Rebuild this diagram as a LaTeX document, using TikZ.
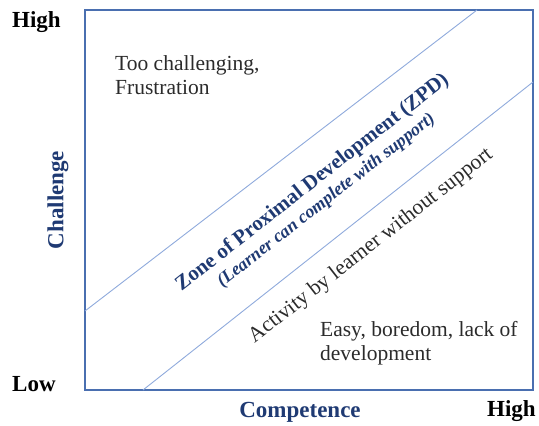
\documentclass[tikz,border=0pt]{standalone}
\usepackage{fontspec}
\setmainfont{Liberation Serif}
\definecolor{navy}{HTML}{1F3A73}
\definecolor{boxblue}{HTML}{4A6FB0}
\definecolor{linblue}{HTML}{8FAADC}
\definecolor{txt}{HTML}{2B2B2B}
\begin{document}
\begin{tikzpicture}[x=1pt,y=-1pt,
  body/.style={font=\fontsize{21.5}{24}\selectfont, text=txt, inner sep=0pt},
  axlab/.style={font=\fontsize{23}{26}\selectfont\bfseries, inner sep=0pt},
  navylab/.style={axlab, text=navy}]
\useasboundingbox (0,0) rectangle (539,426);
% frame
\coordinate (tl) at (85,10);
\coordinate (br) at (533,390);
\draw[boxblue, line width=1.3pt] (tl) rectangle (br);
% diagonal lines
\coordinate (u1) at (85,311);
\coordinate (u2) at (477,10);
\coordinate (l1) at (143,390);
\coordinate (l2) at (533,82);
\draw[linblue, line width=0.9pt] (u1) -- (u2);
\draw[linblue, line width=0.9pt] (l1) -- (l2);
% axis labels
\node[axlab, anchor=base west] (hightl) at (12,27) {High};
\node[axlab, anchor=base west] (low) at (12,391) {Low};
\node[axlab, anchor=base west] (highbr) at (487,416) {High};
\node[navylab, anchor=base] (comp) at (300,417) {Competence};
\node[navylab, rotate=90] (chal) at (58,200) {Challenge};
% region texts
\node[body, anchor=north west, align=left] (too) at (115,55) {Too challenging,\\Frustration};
\node[body, anchor=north west, align=left] (easy) at (320,321) {Easy, boredom, lack of\\development};
\node[body, rotate=38] (act) at (371,246) {Activity by learner without support};
\node[inner sep=0pt, rotate=38, align=center, text=navy] (zpd) at (319,191)
  {{\fontsize{21}{22}\selectfont\bfseries Zone of Proximal Development (ZPD)}\\[4pt]
   {\fontsize{18}{20}\selectfont\bfseries\itshape (Learner can complete with support)}};
\end{tikzpicture}
\end{document}
